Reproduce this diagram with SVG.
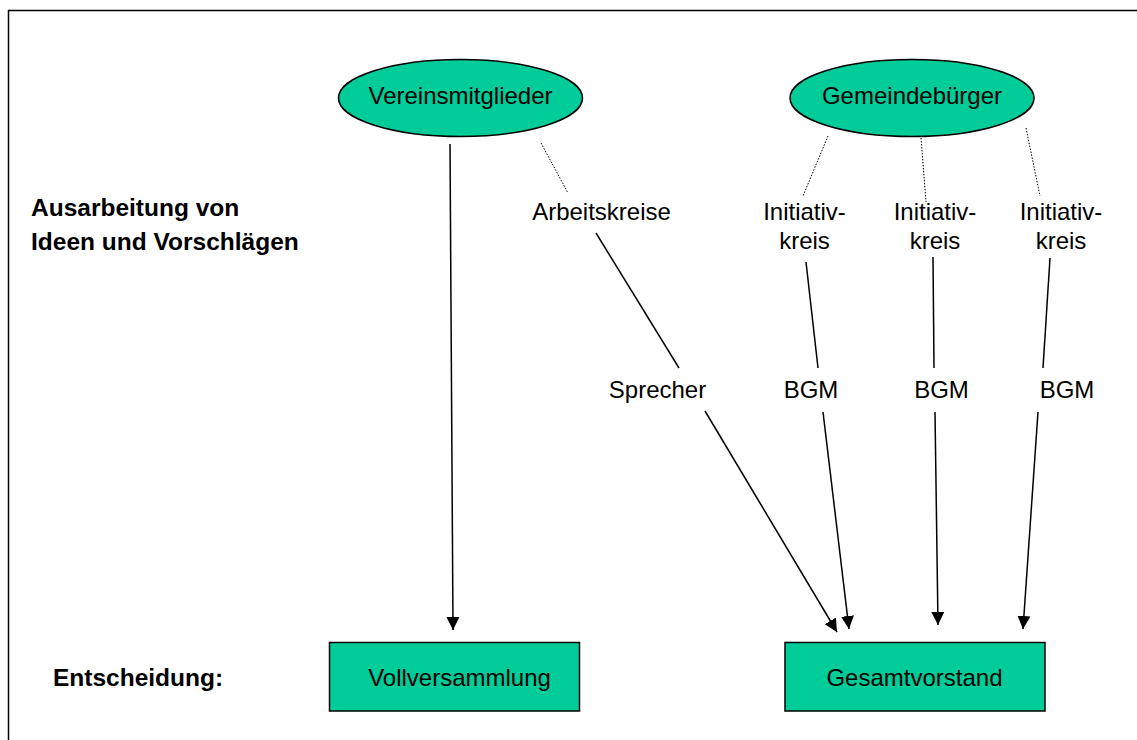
<svg xmlns="http://www.w3.org/2000/svg" width="1137" height="740" viewBox="0 0 1137 740">
<defs>
<style>
.t{font-family:"Liberation Sans",Arial,sans-serif;font-size:24px;fill:#000}
.c{text-anchor:middle}
.b{font-weight:bold;font-size:24.5px}
.node{fill:#00CC99;stroke:#000;stroke-width:1.5}
.ln{stroke:#000;stroke-width:1.5;fill:none}
.arr{stroke:#000;stroke-width:1.5;fill:none;marker-end:url(#ah)}
.dot{stroke:#000;stroke-width:1;fill:none;stroke-dasharray:1.5 1.5}
</style>
<marker id="ah" markerWidth="14" markerHeight="14" refX="13" refY="7" orient="auto" markerUnits="userSpaceOnUse">
<path d="M0,0.5 L13,7 L0,13.5 Z" fill="#000"/>
</marker>
</defs>
<rect width="1137" height="740" fill="#fff"/>
<path d="M8.5,740 L8.5,10.5 L1137,10.5" stroke="#000" stroke-width="1.5" fill="none"/>

<g id="label-ausarbeitung">
<text class="t b" x="31" y="216">Ausarbeitung von</text>
<text class="t b" x="31" y="250">Ideen und Vorschlägen</text>
</g>
<g id="label-entscheidung">
<text class="t b" x="53" y="686">Entscheidung:</text>
</g>

<g id="connectors">
<line class="dot" x1="541" y1="143" x2="568" y2="193"/>
<line class="dot" x1="828" y1="136" x2="803" y2="196"/>
<line class="dot" x1="921" y1="138" x2="926" y2="202"/>
<line class="dot" x1="1026" y1="128" x2="1040" y2="196"/>
<line class="arr" x1="450" y1="144" x2="453" y2="630"/>
<line class="ln" x1="596" y1="233" x2="679" y2="368"/>
<line class="arr" x1="705" y1="411" x2="837" y2="632"/>
<line class="ln" x1="806" y1="262" x2="818" y2="368"/>
<line class="arr" x1="823" y1="412" x2="849" y2="629"/>
<line class="ln" x1="933" y1="257" x2="934" y2="368"/>
<line class="arr" x1="935" y1="412" x2="938" y2="625"/>
<line class="ln" x1="1050" y1="258" x2="1043" y2="368"/>
<line class="arr" x1="1038" y1="412" x2="1023" y2="629"/>
</g>

<g id="vereinsmitglieder">
<ellipse class="node" cx="460.5" cy="98" rx="122" ry="38.5"/>
<text class="t c" x="460.5" y="104">Vereinsmitglieder</text>
</g>
<g id="gemeindebuerger">
<ellipse class="node" cx="912" cy="98" rx="122" ry="38.5"/>
<text class="t c" x="912" y="104">Gemeindebürger</text>
</g>
<g id="arbeitskreise">
<text class="t c" x="601.5" y="220">Arbeitskreise</text>
</g>
<g id="initiativkreis1">
<text class="t c" x="804.5" y="220">Initiativ-</text>
<text class="t c" x="804.5" y="249">kreis</text>
</g>
<g id="initiativkreis2">
<text class="t c" x="935" y="220">Initiativ-</text>
<text class="t c" x="935" y="249">kreis</text>
</g>
<g id="initiativkreis3">
<text class="t c" x="1061" y="220">Initiativ-</text>
<text class="t c" x="1061" y="249">kreis</text>
</g>
<g id="sprecher">
<text class="t c" x="657.5" y="398">Sprecher</text>
</g>
<g id="bgm1">
<text class="t c" x="811" y="398">BGM</text>
</g>
<g id="bgm2">
<text class="t c" x="941.5" y="398">BGM</text>
</g>
<g id="bgm3">
<text class="t c" x="1067" y="398">BGM</text>
</g>
<g id="vollversammlung">
<rect class="node" x="329.5" y="642.5" width="250" height="68.5"/>
<text class="t c" x="459.5" y="686">Vollversammlung</text>
</g>
<g id="gesamtvorstand">
<rect class="node" x="785" y="642.5" width="260" height="68.5"/>
<text class="t c" x="914.5" y="686">Gesamtvorstand</text>
</g>
</svg>
